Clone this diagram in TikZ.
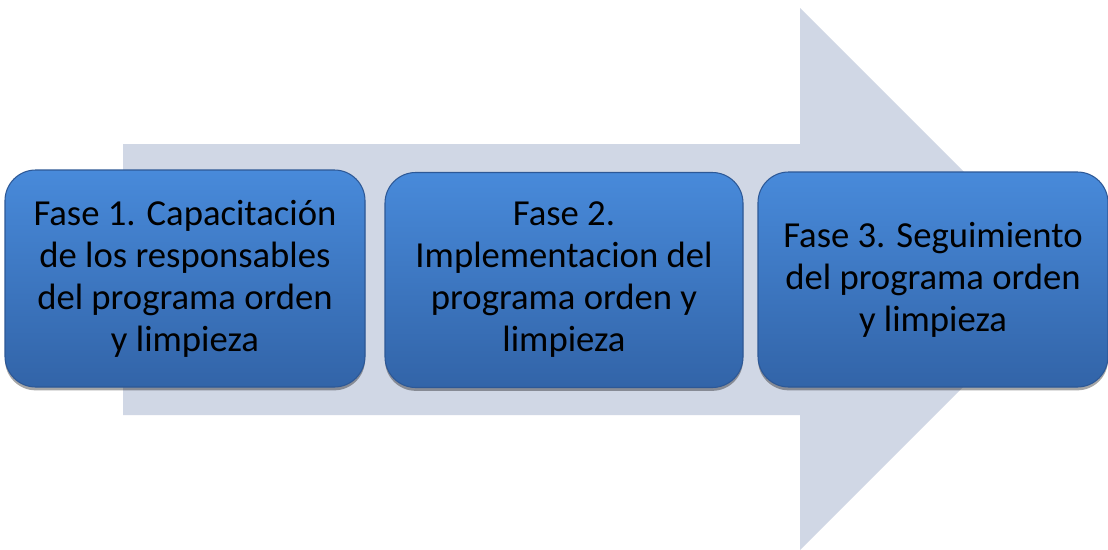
\documentclass[tikz,border=0pt]{standalone}
\usepackage{fontspec}
\setmainfont{Carlito}
\usetikzlibrary{shadows}
\definecolor{arrowfill}{RGB}{208,215,229}
\definecolor{boxtop}{RGB}{72,138,218}
\definecolor{boxbot}{RGB}{50,100,168}
\definecolor{boxline}{RGB}{45,88,150}
\tikzset{
  phase/.style={rectangle, rounded corners=23pt, draw=boxline, line width=0.8pt,
    top color=boxtop, bottom color=boxbot, text=black, align=center, inner sep=0pt,
    font=\fontsize{27.5}{31.5}\selectfont,
    drop shadow={shadow xshift=0pt, shadow yshift=-2.5pt, fill=black, opacity=0.35}},
  bigarrow/.style={fill=arrowfill, draw=none}
}
\begin{document}
\begin{tikzpicture}[x=0.75pt,y=-0.75pt]
\useasboundingbox (0,0) rectangle (1108,550);
\fill[white] (0,0) rectangle (1108,550);
\coordinate (a1) at (123,144);
\coordinate (a2) at (800,144);
\coordinate (a3) at (800,8);
\coordinate (a4) at (1071,279);
\coordinate (a5) at (800,550);
\coordinate (a6) at (800,415);
\coordinate (a7) at (123,415);
\fill[bigarrow] (a1) -- (a2) -- (a3) -- (a4) -- (a5) -- (a6) -- (a7) -- cycle;
\node[phase, minimum width=270pt, minimum height=162.75pt] (f1) at (185,278.5)
  {Fase 1. Capacitación\\de los responsables\\del programa orden\\y limpieza};
\node[phase, minimum width=268.5pt, minimum height=161.25pt] (f2) at (564,280)
  {Fase 2.\\Implementacion del\\programa orden y\\limpieza};
\node[phase, minimum width=262.5pt, minimum height=161.25pt] (f3) at (933,279.5)
  {Fase 3. Seguimiento\\del programa orden\\y limpieza};
\end{tikzpicture}
\end{document}
